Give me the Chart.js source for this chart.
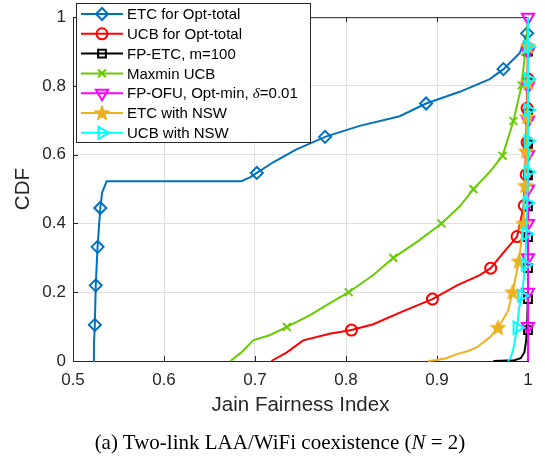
<!DOCTYPE html>
<html>
<head>
<meta charset="utf-8">
<script src="https://cdn.jsdelivr.net/npm/chart.js@4.4.1/dist/chart.umd.min.js"></script>
<style>
    body { margin: 0; background: #fff; }
    #contenedor { position: relative; width: 545px; height: 458px; }
    #leyenda { position: absolute; left: 0; top: 430px; width: 560px; text-align: center; white-space: nowrap;
        font-family: "Liberation Serif", "DejaVu Serif", serif; font-size: 21px; color: #000; line-height: 24px; }
</style>
</head>
<body>
<div id="contenedor">
    <canvas id="graficoCDF" width="545" height="458"></canvas>
    <div id="leyenda">(a) Two-link LAA/WiFi coexistence (<i>N</i> = 2)</div>
</div>
<script>
// Ticks de los ejes
const xTicks = [0.5, 0.6, 0.7, 0.8, 0.9, 1];
const yTicks = [0, 0.2, 0.4, 0.6, 0.8, 1];

// Curvas CDF: pares [índice de Jain, CDF]
const etcOptTotal = [[0.522,0],[0.523,0.05],[0.524,0.105],[0.525,0.22],[0.527,0.332],[0.53,0.445],[0.532,0.49],[0.537,0.523],
    [0.685,0.523],[0.695,0.535],[0.702,0.547],[0.72,0.578],[0.745,0.615],[0.777,0.652],[0.815,0.684],[0.859,0.712],
    [0.888,0.749],[0.925,0.783],[0.958,0.82],[0.973,0.849],[0.991,0.896],[0.999,0.953],[1,1]];
const ucbOptTotal = [[0.718,0],[0.735,0.025],[0.753,0.06],[0.782,0.079],[0.806,0.09],[0.83,0.107],[0.863,0.145],[0.895,0.18],
    [0.922,0.22],[0.947,0.25],[0.959,0.27],[0.973,0.315],[0.988,0.362],[0.995,0.447],[0.997,0.55],[0.999,0.75],[1,0.95],[1,1]];
const fpEtc = [[0.962,0],[0.985,0.002],[0.992,0.008],[0.996,0.025],[0.998,0.06],[0.999,0.1],[1,0.2],[1,1]];
const maxminUcb = [[0.673,0],[0.685,0.025],[0.698,0.06],[0.716,0.075],[0.735,0.099],[0.76,0.133],[0.78,0.165],[0.803,0.2],
    [0.83,0.25],[0.852,0.3],[0.88,0.35],[0.905,0.4],[0.925,0.45],[0.94,0.5],[0.958,0.55],[0.972,0.597],[0.984,0.698],
    [0.993,0.802],[0.997,0.9],[0.999,0.95],[1,1]];
const fpOfu = [[1,0],[1,1]];
const etcNsw = [[0.89,0],[0.9,0.003],[0.91,0.008],[0.922,0.02],[0.935,0.03],[0.944,0.04],[0.958,0.069],[0.967,0.097],
    [0.978,0.145],[0.983,0.2],[0.99,0.29],[0.995,0.4],[0.997,0.51],[0.998,0.61],[0.999,0.71],[1,0.81],[1,1]];
const ucbNsw = [[0.978,0],[0.981,0.01],[0.984,0.037],[0.988,0.097],[0.99,0.15],[0.993,0.19],[0.995,0.23],[0.997,0.28],
    [0.998,0.37],[0.999,0.46],[1,0.55],[1,1]];

// Posiciones de los marcadores sobre cada curva
const etcOptTotalMarks = [[0.524,0.105],[0.525,0.22],[0.527,0.332],[0.53,0.445],[0.702,0.547],[0.777,0.652],[0.888,0.749],[0.973,0.849],[0.999,0.953]];
const ucbOptTotalMarks = [[0.806,0.09],[0.895,0.18],[0.959,0.27],[0.988,0.362],[0.996,0.452],[0.998,0.542],[0.999,0.636],[0.999,0.735],[1,0.82],[1,0.91]];
const fpEtcMarks = [[1,0.09],[1,0.18],[1,0.27],[1,0.36],[1,0.45],[1,0.54],[1,0.63],[1,0.72],[1,0.81],[1,0.9]];
const maxminUcbMarks = [[0.735,0.099],[0.803,0.2],[0.852,0.3],[0.905,0.4],[0.94,0.5],[0.972,0.597],[0.984,0.698],[0.993,0.802],[0.997,0.9]];
const fpOfuMarks = [[1,0.1],[1,0.2],[1,0.3],[1,0.4],[1,0.5],[1,0.6],[1,0.7],[1,0.8],[1,0.9],[1,1]];
const etcNswMarks = [[0.967,0.097],[0.983,0.2],[0.99,0.29],[0.995,0.4],[0.997,0.51],[0.998,0.61],[0.999,0.71],[1,0.81],[1,0.915]];
const ucbNswMarks = [[0.988,0.097],[0.993,0.19],[0.997,0.28],[0.998,0.37],[0.999,0.46],[1,0.55],[1,0.64],[1,0.73],[1,0.82],[1,0.915]];

// Estrella de cinco puntas (pentagrama de MATLAB) como imagen de marcador
function crearEstrella(color, r) {
    const c = document.createElement('canvas');
    c.width = c.height = Math.ceil(r * 2 + 4);
    const g = c.getContext('2d');
    const cx = c.width / 2, cy = c.height / 2 + 0.5;
    g.beginPath();
    for (let i = 0; i < 10; i++) {
        const ang = -Math.PI / 2 + i * Math.PI / 5;
        const rr = i % 2 === 0 ? r : r * 0.42;
        g.lineTo(cx + rr * Math.cos(ang), cy + rr * Math.sin(ang));
    }
    g.closePath();
    g.fillStyle = color;
    g.fill();
    g.lineWidth = 1;
    g.strokeStyle = color;
    g.stroke();
    return c;
}

const series = [
    { label: 'ETC for Opt-total', color: '#0072BD', data: etcOptTotal, marks: etcOptTotalMarks, style: 'rectRot', radius: 6, rotation: 0 },
    { label: 'UCB for Opt-total', color: '#FF0000', data: ucbOptTotal, marks: ucbOptTotalMarks, style: 'circle', radius: 5.5, rotation: 0 },
    { label: 'FP-ETC, m=100', color: '#000000', data: fpEtc, marks: fpEtcMarks, style: 'rect', radius: 5.5, rotation: 0 },
    { label: 'Maxmin UCB', color: '#66CC00', data: maxminUcb, marks: maxminUcbMarks, style: 'crossRot', radius: 5.5, rotation: 0 },
    { label: 'FP-OFU, Opt-min, ', delta: true, color: '#FF00FF', data: fpOfu, marks: fpOfuMarks, style: 'triangle', radius: 7, rotation: 180 },
    { label: 'ETC with NSW', color: '#EDB120', data: etcNsw, marks: etcNswMarks, style: crearEstrella('#EDB120', 8), radius: 8, rotation: 0 },
    { label: 'UCB with NSW', color: '#00FFFF', data: ucbNsw, marks: ucbNswMarks, style: 'triangle', radius: 7, rotation: 90 }
];

const aPuntos = arr => arr.map(p => ({ x: p[0], y: p[1] }));
const n = series.length;
const datasets = [];
series.forEach((s, i) => {
    datasets.push({
        label: s.label, data: aPuntos(s.data), showLine: true, borderColor: s.color, borderWidth: 2,
        pointRadius: 0, tension: 0, clip: false, order: 2 * (n - 1 - i) + 1
    });
    datasets.push({
        label: s.label + ' marcas', data: aPuntos(s.marks), showLine: false, pointStyle: s.style,
        pointRadius: s.radius, pointRotation: s.rotation, pointBorderColor: s.color, pointBorderWidth: 2,
        pointBackgroundColor: 'rgba(0,0,0,0)', clip: false, order: 2 * (n - 1 - i)
    });
});

const fuente = '"Liberation Sans", Arial, sans-serif';
const colorEje = '#262626';

// Marco tipo MATLAB: caja completa y ticks hacia adentro, más la leyenda interior
const pluginMatlab = {
    id: 'pluginMatlab',
    beforeDatasetsDraw(chart) {
        const { ctx, chartArea: a, scales: { x, y } } = chart;
        ctx.save();
        ctx.strokeStyle = colorEje;
        ctx.lineWidth = 1;
        ctx.beginPath();
        xTicks.forEach(v => {
            const px = Math.round(x.getPixelForValue(v)) + 0.5;
            ctx.moveTo(px, a.bottom); ctx.lineTo(px, a.bottom - 5);
            ctx.moveTo(px, a.top); ctx.lineTo(px, a.top + 5);
        });
        yTicks.forEach(v => {
            const py = Math.round(y.getPixelForValue(v)) + 0.5;
            ctx.moveTo(a.left, py); ctx.lineTo(a.left + 5, py);
            ctx.moveTo(a.right, py); ctx.lineTo(a.right - 5, py);
        });
        ctx.rect(a.left + 0.5, a.top + 0.5, a.right - a.left, a.bottom - a.top);
        ctx.stroke();
        ctx.restore();
    },
    afterDraw(chart) {
        const ctx = chart.ctx;
        const caja = { x: 76.5, y: 3.5, w: 234, h: 139 };
        ctx.save();
        ctx.fillStyle = '#fff';
        ctx.fillRect(caja.x, caja.y, caja.w, caja.h);
        ctx.strokeStyle = colorEje;
        ctx.lineWidth = 1;
        ctx.strokeRect(caja.x, caja.y, caja.w, caja.h);
        series.forEach((s, i) => {
            const yy = 14 + i * 19.8;
            ctx.strokeStyle = s.color;
            ctx.lineWidth = 2;
            ctx.beginPath();
            ctx.moveTo(81, yy); ctx.lineTo(123, yy);
            ctx.stroke();
            ctx.fillStyle = 'rgba(0,0,0,0)';
            Chart.helpers.drawPoint(ctx, { pointStyle: s.style, rotation: s.rotation, radius: s.radius, borderWidth: 2 }, 102, yy);
            ctx.fillStyle = '#000';
            ctx.textBaseline = 'middle';
            ctx.font = '15px ' + fuente;
            ctx.fillText(s.label, 127, yy + 1);
            if (s.delta) {
                let xx = 127 + ctx.measureText(s.label).width;
                ctx.font = 'italic 15px "Liberation Serif", serif';
                ctx.fillText('δ', xx, yy + 1);
                xx += ctx.measureText('δ').width;
                ctx.font = '15px ' + fuente;
                ctx.fillText('=0.01', xx, yy + 1);
            }
        });
        ctx.restore();
    }
};

const formatoTick = v => String(Number(v.toFixed(1)));

new Chart(document.getElementById('graficoCDF'), {
    type: 'scatter',
    data: { datasets: datasets },
    options: {
        responsive: false,
        animation: false,
        events: [],
        layout: { padding: { left: 0, top: 9, right: 17, bottom: 0 } },
        plugins: { legend: { display: false }, tooltip: { enabled: false } },
        scales: {
            x: {
                type: 'linear', min: 0.5, max: 1,
                afterBuildTicks: s => { s.ticks = xTicks.map(v => ({ value: v })); },
                afterFit: s => { s.height = 97; },
                grid: { color: '#dedede', drawTicks: false },
                border: { color: colorEje, width: 1 },
                ticks: { callback: formatoTick, color: colorEje, padding: 9, font: { family: fuente, size: 17 }, maxRotation: 0 },
                title: { display: true, text: 'Jain Fairness Index', color: colorEje, font: { family: fuente, size: 20.5 }, padding: { top: 0, bottom: 40 } }
            },
            y: {
                type: 'linear', min: 0, max: 1,
                afterBuildTicks: s => { s.ticks = yTicks.map(v => ({ value: v })); },
                afterFit: s => { s.width = 73; },
                grid: { color: '#dedede', drawTicks: false },
                border: { color: colorEje, width: 1 },
                ticks: { callback: formatoTick, color: colorEje, padding: 7, font: { family: fuente, size: 17 } },
                title: { display: true, text: 'CDF', color: colorEje, font: { family: fuente, size: 20.5 }, padding: { top: 11, bottom: 0 } }
            }
        }
    },
    plugins: [pluginMatlab]
});
</script>
</body>
</html>
